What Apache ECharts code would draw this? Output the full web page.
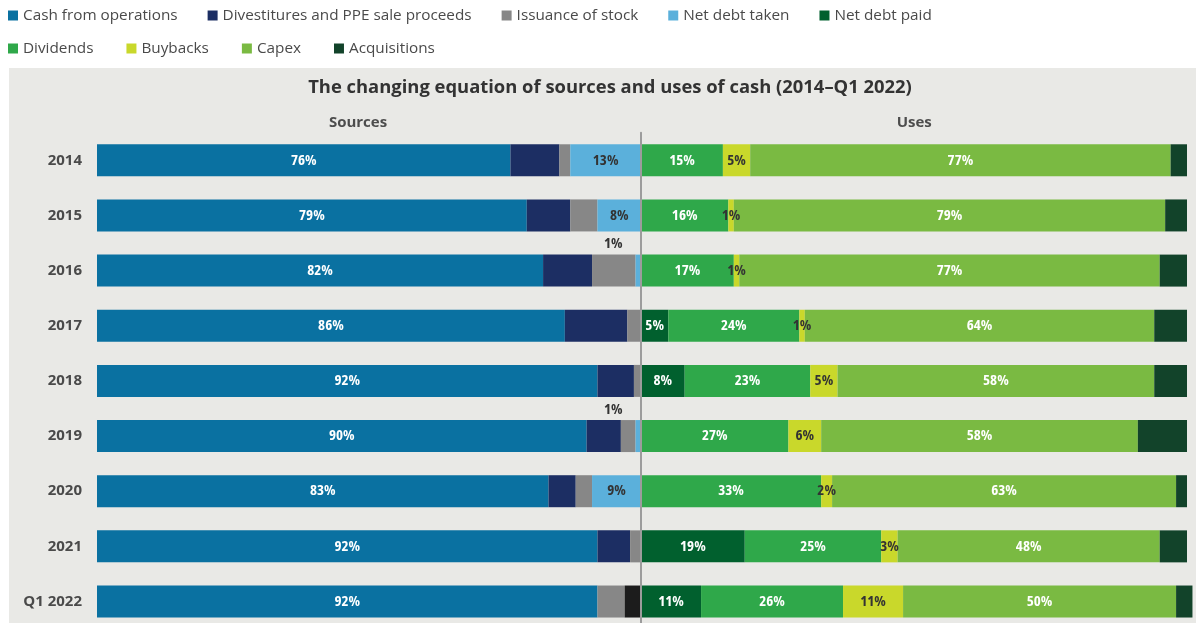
<!DOCTYPE html>
<html>
<head>
<meta charset="utf-8">
<script src="https://cdn.jsdelivr.net/npm/echarts@6/dist/echarts.min.js"></script>
<style>
  html, body { margin: 0; padding: 0; background: #ffffff; }
  #chart { width: 1196px; height: 623px; }
</style>
</head>
<body>
<div id="chart"></div>
<script>
// Periods shown as rows, top to bottom
const years = ['2014', '2015', '2016', '2017', '2018', '2019', '2020', '2021', 'Q1 2022'];

// Sources of cash, share of total (%), stacked from the left edge toward the centre
const cashFromOperations = [76, 79, 82, 86, 92, 90, 83, 92, 92];
const divestitures       = [9, 8, 9, 11.5, 6.7, 6.3, 5, 6, 0];
const issuanceOfStock    = [2, 5, 8, 2.5, 1.3, 2.7, 3, 2, 5];
const netDebtTaken       = [13, 8, 1, 0, 0, 1, 9, 0, 0];
const otherSources       = [0, 0, 0, 0, 0, 0, 0, 0, 3];

// Uses of cash, share of total (%), stacked from the centre toward the right edge
const netDebtPaid  = [0, 0, 0, 5, 8, 0, 0, 19, 11];
const dividends    = [15, 16, 17, 24, 23, 27, 33, 25, 26];
const buybacks     = [5, 1, 1, 1, 5, 6, 2, 3, 11];
const capex        = [77, 79, 77, 64, 58, 58, 63, 48, 50];
const acquisitions = [3, 4, 5, 6, 6, 9, 2, 5, 3];

const legendRow1 = ['Cash from operations', 'Divestitures and PPE sale proceeds', 'Issuance of stock', 'Net debt taken', 'Net debt paid'];
const legendRow2 = ['Dividends', 'Buybacks', 'Capex', 'Acquisitions'];

const SANS = "'Open Sans', 'Noto Sans', sans-serif";

const LIGHT_TEXT = '#ffffff';
const DARK_TEXT = '#333333';

function pct(p) {
  return p.value ? p.value + '%' : '';
}

// side: 0 = sources (left grid), 1 = uses (right grid)
function makeSeries(name, values, color, side, labelMode, labelColor) {
  const data = values.map(function (v) {
    const item = { value: v };
    if (labelMode === 'smallAbove' && v > 0 && v < 3) {
      item.label = { position: 'top', distance: 3, color: DARK_TEXT };
    }
    return item;
  });
  const s = {
    name: name,
    type: 'bar',
    stack: side === 0 ? 'sources' : 'uses',
    xAxisIndex: side,
    yAxisIndex: side,
    barWidth: 32,
    itemStyle: { color: color },
    label: {
      show: labelMode !== 'none',
      position: 'inside',
      formatter: pct,
      color: labelColor || LIGHT_TEXT,
      fontFamily: SANS,
      fontWeight: 'bold semi-condensed',
      fontSize: 15
    },
    emphasis: { disabled: true },
    data: data
  };
  if (labelMode === 'smallAbove') {
    // thin slivers get their label lifted above the bar and nudged left
    s.labelLayout = function (params) {
      const v = values[params.dataIndex];
      return (v > 0 && v < 3) ? { dx: -25 } : {};
    };
  }
  return s;
}

const chart = echarts.init(document.getElementById('chart'), null, { renderer: 'canvas' });

const gridTop = 132.7;
const gridHeight = 496.4;

const legendBase = {
  left: 8,
  padding: 0,
  itemGap: 30,
  itemWidth: 10,
  itemHeight: 10,
  icon: 'rect',
  selectedMode: false,
  textStyle: { fontFamily: SANS, fontSize: 15.3, color: '#4a4a4a' }
};

const option = {
  backgroundColor: '#ffffff',
  animation: false,
  graphic: [{
    type: 'rect',
    z: -10,
    silent: true,
    shape: { x: 9, y: 68, width: 1200, height: 600 },
    style: { fill: '#e9e9e6' }
  }],
  title: {
    text: 'The changing equation of sources and uses of cash (2014\u2013Q1 2022)',
    left: 610,
    textAlign: 'center',
    top: 79,
    padding: 0,
    textStyle: { fontFamily: SANS, fontWeight: 'bold', fontSize: 18.4, color: '#333333' }
  },
  legend: [
    Object.assign({}, legendBase, { data: legendRow1, top: 8 }),
    Object.assign({}, legendBase, { data: legendRow2, top: 41, itemGap: 33 })
  ],
  grid: [
    { left: 97, width: 544, top: gridTop, height: gridHeight, containLabel: false, outerBoundsMode: 'none' },
    { left: 641, width: 551.46, top: gridTop, height: gridHeight, containLabel: false, outerBoundsMode: 'none' }
  ],
  xAxis: [{
    gridIndex: 0,
    type: 'value',
    min: 0,
    max: 100,
    position: 'top',
    name: 'Sources',
    nameLocation: 'middle',
    nameGap: 2,
    nameTextStyle: { fontFamily: SANS, fontWeight: 'bold', fontSize: 15, color: '#4d4d4d', padding: [0, 22, 0, 0] },
    axisLine: { show: false },
    axisTick: { show: false },
    axisLabel: { show: false },
    splitLine: { show: false }
  }, {
    gridIndex: 1,
    type: 'value',
    min: 0,
    max: 101,
    position: 'top',
    name: 'Uses',
    nameLocation: 'middle',
    nameGap: 2,
    nameTextStyle: { fontFamily: SANS, fontWeight: 'bold', fontSize: 15, color: '#4d4d4d', padding: [0, 5, 0, 0] },
    axisLine: { show: false },
    axisTick: { show: false },
    axisLabel: { show: false },
    splitLine: { show: false }
  }],
  yAxis: [{
    gridIndex: 0,
    type: 'category',
    data: years,
    inverse: true,
    axisLine: { show: false },
    axisTick: { show: false },
    axisLabel: { margin: 15, fontFamily: SANS, fontWeight: 'bold', fontSize: 15, color: '#4a4a4a' }
  }, {
    gridIndex: 1,
    type: 'category',
    data: years,
    inverse: true,
    z: 10,
    axisLine: { show: true, lineStyle: { color: '#9c9c9c', width: 2 } },
    axisTick: { show: false },
    axisLabel: { show: false }
  }],
  series: [
    makeSeries('Cash from operations', cashFromOperations, '#0a71a1', 0, 'all', LIGHT_TEXT),
    makeSeries('Divestitures and PPE sale proceeds', divestitures, '#1c2e63', 0, 'none'),
    makeSeries('Issuance of stock', issuanceOfStock, '#878787', 0, 'none'),
    makeSeries('Net debt taken', netDebtTaken, '#5bb0db', 0, 'smallAbove', DARK_TEXT),
    makeSeries('Other', otherSources, '#1c1c1c', 0, 'none'),
    makeSeries('Net debt paid', netDebtPaid, '#01602e', 1, 'all', LIGHT_TEXT),
    makeSeries('Dividends', dividends, '#2fa84a', 1, 'all', LIGHT_TEXT),
    makeSeries('Buybacks', buybacks, '#c9d82b', 1, 'all', DARK_TEXT),
    makeSeries('Capex', capex, '#7aba42', 1, 'all', LIGHT_TEXT),
    makeSeries('Acquisitions', acquisitions, '#12432a', 1, 'none')
  ]
};

chart.setOption(option);
</script>
</body>
</html>
